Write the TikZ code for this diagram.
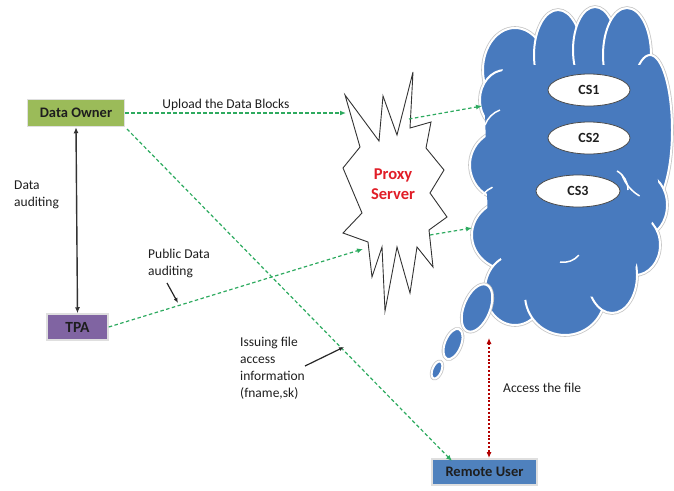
\documentclass[tikz,border=0pt]{standalone}
\usepackage{fontspec}
\setmainfont{Carlito}
\usetikzlibrary{arrows.meta,shapes.geometric}
\definecolor{gline}{RGB}{45,170,95}
\definecolor{ownerg}{RGB}{155,187,89}
\definecolor{tpap}{RGB}{128,100,162}
\definecolor{userb}{RGB}{79,129,189}
\definecolor{cloudb}{RGB}{72,122,190}
\definecolor{txt}{RGB}{30,30,30}
\definecolor{proxyred}{RGB}{225,30,40}
\begin{document}
\begin{tikzpicture}[x=1pt,y=-1pt,
  box/.style={draw=gray!25,line width=1.5pt,font=\bfseries\fontsize{14.5}{16}\selectfont,text=txt,inner sep=0pt},
  gdash/.style={draw=gline,line width=1.2pt,dash pattern=on 3.5pt off 2.5pt,-{Latex[length=6pt,width=5pt]}},
  lbl/.style={font=\fontsize{13.5}{17}\selectfont,text=txt,align=left,inner sep=0pt},
  blk/.style={draw=black!85,line width=1.2pt,-{Latex[length=5pt,width=4pt]}},
  lobe/.style={fill=cloudb,draw=white,line width=2pt},
  halo/.style={draw=gray!45,line width=3.6pt},
  cs/.style={ellipse,fill=white,draw=gray!60!black,line width=0.8pt,minimum height=32,inner sep=0pt,font=\bfseries\fontsize{14}{16}\selectfont,text=txt}]
\useasboundingbox (0,0) rectangle (674,490);

% ---- cloud ----
\def\lobes{515/70/32/42,558/55/24/45,595/50/22/43,627/55/24/47,650/130/22/75,
  505/100/25/30,505/165/35/35,510/235/38/35,645/205/22/30,635/245/25/30,
  515/290/30/35,565/295/40/40,612/275/25/38}
\foreach \cx/\cy/\rx/\ry in \lobes
  {\draw[halo] (\cx,\cy) ellipse[x radius=\rx,y radius=\ry];}
\foreach \cx/\cy/\rx/\ry in \lobes
  {\draw[lobe] (\cx,\cy) ellipse[x radius=\rx,y radius=\ry];}
\fill[cloudb] (505,65) -- (645,65) -- (660,200) -- (625,295) -- (520,300) -- (488,230) -- (485,110) -- cycle;
% internal white arcs
\draw[white,line width=1.5pt] (485,125) arc[start angle=200,end angle=250,radius=25];
\draw[white,line width=1.5pt] (478,203) arc[start angle=200,end angle=245,radius=28];
\draw[white,line width=1.5pt] (628,190) arc[start angle=0,end angle=-60,radius=22];
\draw[white,line width=1.5pt] (560,262) arc[start angle=100,end angle=40,radius=20];
\draw[white,line width=1.5pt] (622,175) arc[start angle=160,end angle=120,radius=40];

% thought bubbles (tilted, top leaning right)
\foreach \bx/\by/\brx/\bry in {477/308/13/25,453/344/8/16,437/370/4.5/9}{
  \begin{scope}[rotate around={-22:(\bx,\by)}]
    \draw[halo] (\bx,\by) ellipse[x radius=\brx,y radius=\bry];
    \draw[lobe] (\bx,\by) ellipse[x radius=\brx,y radius=\bry];
  \end{scope}}

% CS ellipses
\node[cs,minimum width=82] (cs1) at (589,90) {CS1};
\node[cs,minimum width=82] (cs2) at (589,138) {CS2};
\node[cs,minimum width=84] (cs3) at (578,191) {CS3};

% ---- proxy star ----
\draw[black!80,line width=0.9pt,fill=white] (345,95) -- (379,141) -- (383,96) -- (397,135) -- (413,72) -- (410,128)
  -- (431,122) -- (426,148) -- (444,170) -- (430,193) -- (447,217) -- (429,230) -- (433,267) -- (417,247)
  -- (410,293) -- (397,247) -- (385,311) -- (382,247) -- (372,277) -- (368,242) -- (343,233) -- (362,213)
  -- (343,168) -- (360,147) -- cycle;
\node[font=\bfseries\fontsize{16.5}{20}\selectfont,text=proxyred,align=center] (proxy) at (393,184) {Proxy\\Server};

% ---- boxes ----
\node[box,fill=ownerg,minimum width=97,minimum height=27] (owner) at (76,113) {Data Owner};
\node[box,fill=tpap,minimum width=61,minimum height=26,font=\bfseries\fontsize{15.5}{17}\selectfont] (tpa) at (77.5,327) {TPA};
\node[box,fill=userb,minimum width=105,minimum height=26] (user) at (484.5,472) {Remote User};

% named coordinates
\coordinate (psin1) at (346,113);
\coordinate (psout1) at (409,119);
\coordinate (psin2) at (363,249);
\coordinate (psout2) at (430,235);
\coordinate (clin1) at (482,106);
\coordinate (clin2) at (472,228);
\coordinate (clbot) at (489,338);
\coordinate (ownerbr) at (127,129);
\coordinate (userin) at (452,461);
\coordinate (userin2) at (489,458);

% ---- connectors ----
\draw[gdash] (owner.east) -- (psin1);
\draw[gdash] (psout1) -- (clin1);
\draw[gdash] (tpa.east) -- (psin2);
\draw[gdash] (psout2) -- (clin2);
\draw[gdash] (ownerbr) -- (userin);
\draw[draw=black!80,line width=1.4pt,{Latex[length=6pt,width=5pt]}-{Latex[length=6pt,width=5pt]}] (owner.south) -- (tpa.north);
\draw[draw=red!70!black,line width=1.1pt,dash pattern=on 2pt off 1.8pt,{Latex[length=6pt,width=5pt]}-{Latex[length=6pt,width=5pt]}] (clbot) -- (userin2);

% ---- labels ----
\node[lbl] (lup) at (226,105) {Upload the Data Blocks};
\node[lbl,anchor=north west] (lda) at (14,181) {Data\\auditing};
\node[lbl,anchor=north west] (lpub) at (148,248.5) {Public Data\\auditing};
\node[lbl,anchor=north west] (liss) at (240,337) {Issuing file\\access\\information\\(fname,sk)};
\node[lbl,anchor=west] (lacc) at (503,388) {Access the file};
\coordinate (a1s) at (167,283); \coordinate (a1e) at (178,303);
\coordinate (a2s) at (305,366); \coordinate (a2e) at (344,347);
\draw[blk] (a1s) -- (a1e);
\draw[blk] (a2s) -- (a2e);
\end{tikzpicture}
\end{document}
